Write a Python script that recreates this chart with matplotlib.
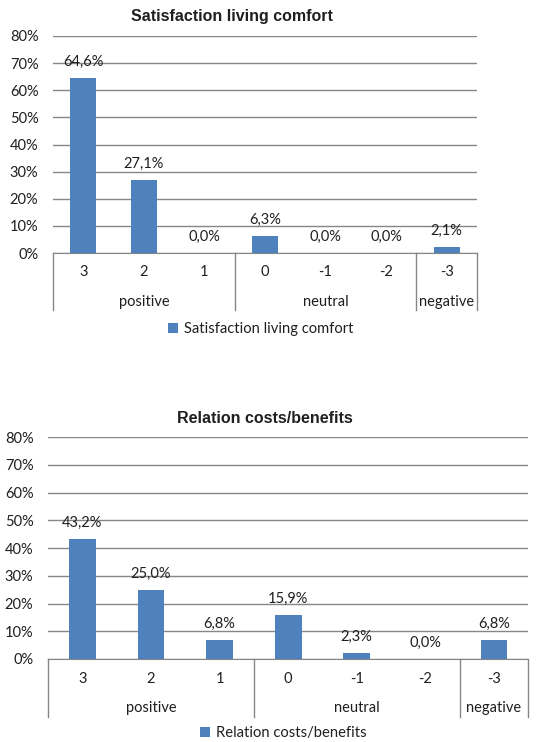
import matplotlib
matplotlib.use("Agg")
import matplotlib.pyplot as plt
from matplotlib.patches import Patch

# Survey answers on a -3..3 scale, share of respondents in percent
categories = ["3", "2", "1", "0", "-1", "-2", "-3"]
groups = ["positive", "neutral", "negative"]
group_spans = [(0, 2), (3, 5), (6, 6)]

comfort_title = "Satisfaction living comfort"
comfort_values = [64.6, 27.1, 0.0, 6.3, 0.0, 0.0, 2.1]

costs_title = "Relation costs/benefits"
costs_values = [43.2, 25.0, 6.8, 15.9, 2.3, 0.0, 6.8]

y_ticks = [0, 10, 20, 30, 40, 50, 60, 70, 80]

BLUE = "#4f81bd"
GRID = "#868686"
TEXT = "#1f1f1f"
FONT = ["Lato", "DejaVu Sans"]


def draw_chart(ax, values, label, bar_width, sep_bottom, tick_y, group_y, legend_y):
    x = list(range(len(categories)))
    ax.bar(x, values, width=bar_width, color=BLUE, zorder=3)

    ax.set_xlim(-0.5, len(categories) - 0.5)
    ax.set_ylim(0, 80)
    ax.set_yticks(y_ticks)
    ax.set_yticklabels(["%d%%" % t for t in y_ticks], family=FONT, fontsize=10.5, color=TEXT)
    ax.tick_params(axis="y", length=0, pad=10.5)
    ax.set_xticks([])
    ax.yaxis.grid(True, color=GRID, linewidth=1.0, zorder=0)
    for side in ["top", "right", "left"]:
        ax.spines[side].set_visible(False)
    ax.spines["bottom"].set_color(GRID)

    # value labels above each bar
    for xi, v in zip(x, values):
        ax.annotate(("%.1f%%" % v).replace(".", ","), (xi, v), xytext=(0, 11.5),
                    textcoords="offset points", ha="center", va="center",
                    family=FONT, fontsize=10.5, color=TEXT)

    # two-level category axis
    trans = ax.get_xaxis_transform()
    for xi, cat in zip(x, categories):
        ax.text(xi, tick_y, cat, transform=trans, ha="center", va="center",
                family=FONT, fontsize=10.5, color=TEXT)
    bounds = [-0.5] + [end + 0.5 for _, end in group_spans]
    for b in bounds:
        ax.plot([b, b], [0, sep_bottom], transform=trans, color=GRID,
                linewidth=1.0, clip_on=False)
    for name, (start, end) in zip(groups, group_spans):
        ax.text((start + end) / 2, group_y, name, transform=trans, ha="center",
                va="center", family=FONT, fontsize=10.5, color=TEXT)

    handle = Patch(facecolor=BLUE, edgecolor="none")
    ax.legend([handle], [label], loc="center", bbox_to_anchor=(0.49, legend_y),
              frameon=False, handlelength=0.7, handleheight=0.7, handletextpad=0.4,
              prop={"family": FONT, "size": 10.6}, labelcolor=TEXT)


fig = plt.figure(figsize=(5.42, 7.42), dpi=100)
fig.patch.set_facecolor("white")

ax1 = fig.add_axes([0.0978, 0.659, 0.782, 0.2925])
draw_chart(ax1, comfort_values, comfort_title, 0.43, -0.263, -0.088, -0.226, -0.35)
fig.text(232 / 542, 1 - 17 / 742, comfort_title, ha="center", va="center",
         family="Liberation Sans", fontweight="bold", fontsize=11.5, color=TEXT)

ax2 = fig.add_axes([0.0886, 0.1119, 0.886, 0.299])
draw_chart(ax2, costs_values, costs_title, 0.39, -0.261, -0.09, -0.22, -0.333)
fig.text(265 / 542, 1 - 418 / 742, costs_title, ha="center", va="center",
         family="Liberation Sans", fontweight="bold", fontsize=11.5, color=TEXT)

fig.savefig("out.png", dpi=100)
